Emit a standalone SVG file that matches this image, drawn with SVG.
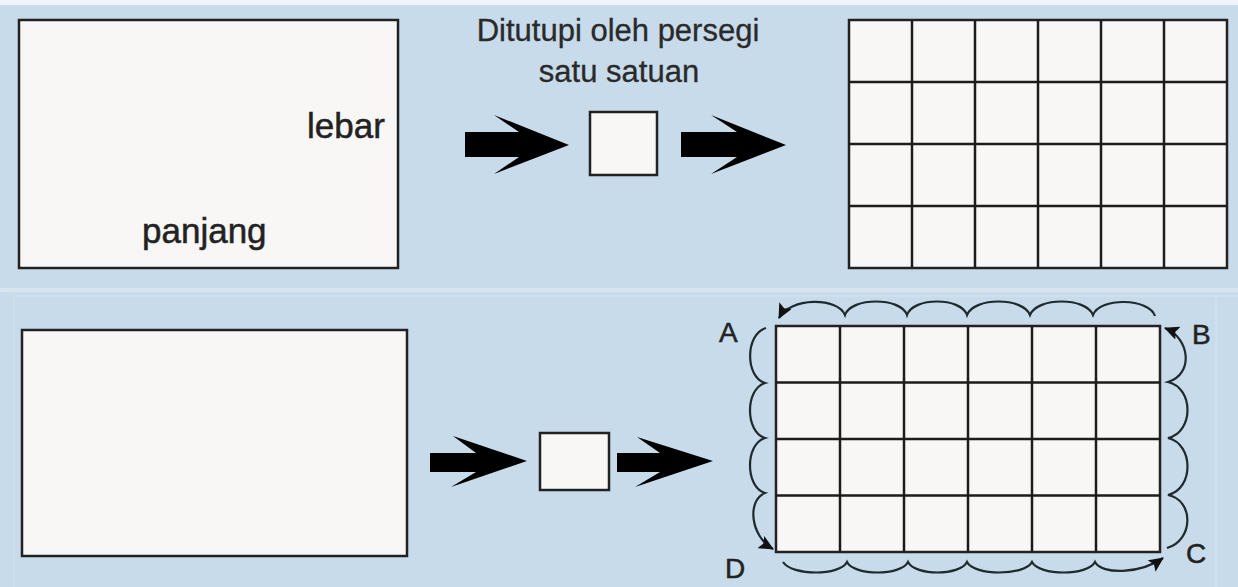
<svg xmlns="http://www.w3.org/2000/svg" width="1238" height="587" viewBox="0 0 1238 587">
<defs>
<style>
.box{fill:#f8f7f5;stroke:#222;stroke-width:2.5}
.grid{stroke:#1c1c1c;stroke-width:2.5;fill:none}
.blk{fill:#000}
.lbl{font-family:"Liberation Sans",Arial,sans-serif;fill:#222;stroke:#222;stroke-width:0.5}
.wave{fill:none;stroke:#1e2a2e;stroke-width:2.2}
</style>
<marker id="ah" markerUnits="userSpaceOnUse" markerWidth="16" markerHeight="14" refX="14" refY="7" orient="auto">
<path d="M0,0 L15,7 L0,14 L3,7 Z" fill="#111"/>
</marker>
</defs>
<rect width="1238" height="587" fill="#c7dbeb"/>
<rect x="0" y="0" width="1238" height="5" fill="#eef4f9"/>
<rect x="0" y="288" width="1238" height="4" fill="#d6e5f0"/>
<line x1="14" y1="296" x2="1238" y2="296" stroke="#d2e2ee" stroke-width="1.5"/>
<line x1="14" y1="296" x2="14" y2="587" stroke="#d2e2ee" stroke-width="1.5"/>
<line x1="1216" y1="296" x2="1216" y2="587" stroke="#d2e2ee" stroke-width="1.5"/>

<g id="rect-top">
<rect class="box" x="19" y="20" width="379" height="248"/>
<text class="lbl" x="307" y="138" font-size="35">lebar</text>
<text class="lbl" x="142" y="243" font-size="35">panjang</text>
</g>

<g id="title">
<text class="lbl" x="618" y="41" font-size="31" text-anchor="middle" style="fill:#2a2a2a;stroke:#2a2a2a;stroke-width:0.3">Ditutupi oleh persegi</text>
<text class="lbl" x="619" y="82" font-size="31" text-anchor="middle" style="fill:#2a2a2a;stroke:#2a2a2a;stroke-width:0.3">satu satuan</text>
</g>

<g id="unit-top">
<rect class="box" x="590" y="112" width="67" height="63"/>
</g>

<g id="grid-top">
<rect class="box" x="849" y="20" width="378" height="248"/>
<path class="grid" d="M912,20V268M975,20V268M1038,20V268M1101,20V268M1164,20V268M849,82H1227M849,144H1227M849,206H1227"/>
</g>

<g id="rect-bottom">
<rect class="box" x="22" y="330" width="385" height="226"/>
</g>

<g id="unit-bottom">
<rect class="box" x="540" y="433" width="69" height="57"/>
</g>

<g id="grid-bottom">
<rect class="box" x="776" y="326" width="384" height="226"/>
<path class="grid" d="M840,326V552M904,326V552M968,326V552M1032,326V552M1096,326V552M776,382.5H1160M776,439H1160M776,495.5H1160"/>
<text class="lbl" x="719" y="342" font-size="28">A</text>
<text class="lbl" x="1192" y="344" font-size="28">B</text>
<text class="lbl" x="1186" y="563" font-size="28">C</text>
<text class="lbl" x="725" y="578" font-size="28">D</text>
</g>

<g id="connectors">
<polygon class="blk" points="465,132 519,132 494,115 569,145 494,174 519,157 465,157"/>
<polygon class="blk" points="681,132 737,132 711,115 786,145 711,174 737,157 681,157"/>
<polygon class="blk" points="430,453 476,453 453,436 527,461 451,487 476,472 430,472"/>
<polygon class="blk" points="617,453 660,453 637,437 713,461 635,487 660,472 617,472"/>

<path class="wave" marker-end="url(#ah)" d="M1155,316 C1149,298 1100,297 1093,315 C1086,297 1037,297 1030,315 C1023,297 974,297 967,315 C961,297 913,297 907,315 C901,297 851,297 845,315 C838,297 790,297 779,318"/>
<path class="wave" marker-end="url(#ah)" d="M766,328 C745,334 745,377 765,383 C745,389 745,432 765,438 C745,444 745,487 765,493 C747,500 750,536 773,549"/>
<path class="wave" marker-end="url(#ah)" d="M1167,548 C1194,540 1194,500 1168,495 C1194,489 1194,444 1168,438 C1194,432 1194,388 1168,382 C1194,374 1190,338 1165,328"/>
<path class="wave" marker-end="url(#ah)" d="M783,562 C792,576 840,576 847,562 C854,576 901,576 908,562 C915,576 960,576 967,562 C974,576 1025,576 1032,562 C1039,576 1088,576 1095,562 C1102,575 1140,574 1163,558"/>
</g>
</svg>
